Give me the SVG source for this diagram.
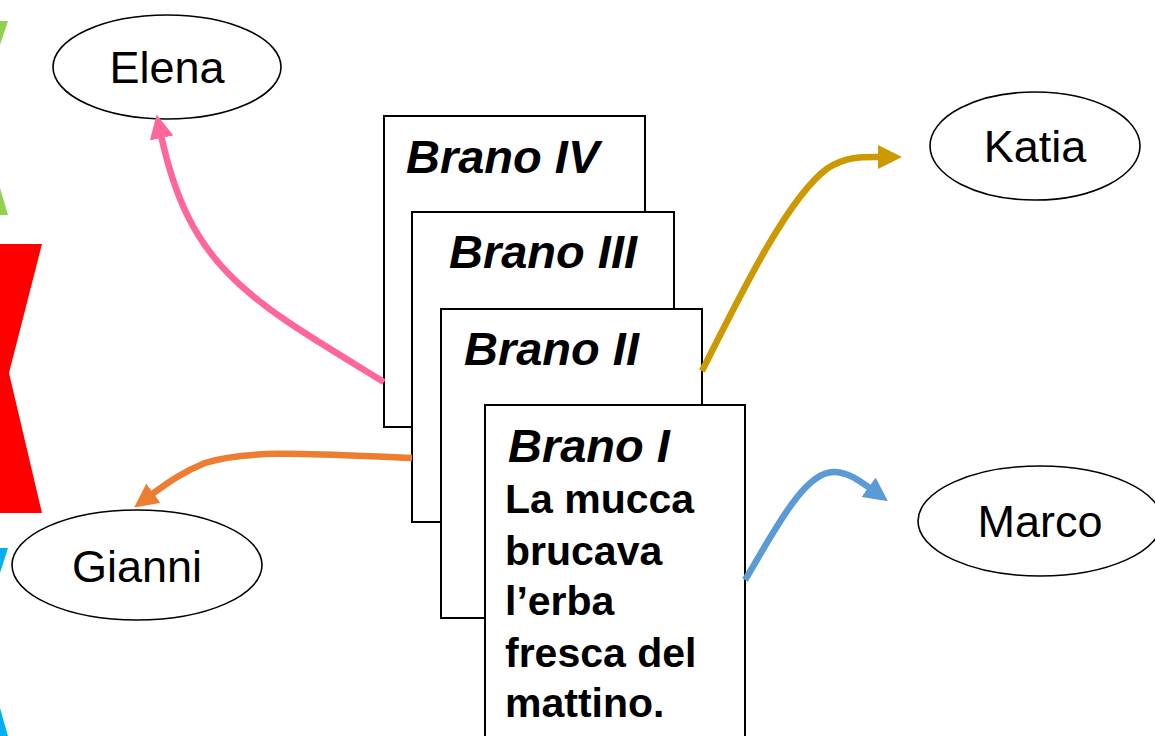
<svg xmlns="http://www.w3.org/2000/svg" width="1155" height="736" viewBox="0 0 1155 736">
<style>
.page{fill:#fff;stroke:#000;stroke-width:2}
.title{font-family:"Liberation Sans",Arial,sans-serif;font-size:47px;font-weight:bold;font-style:italic;fill:#000}
.body{font-family:"Liberation Sans",Arial,sans-serif;font-size:41px;font-weight:bold;fill:#000}
.person ellipse{fill:#fff;stroke:#000;stroke-width:1.6}
.person text{font-family:"Liberation Sans",Arial,sans-serif;font-size:45px;fill:#000;text-anchor:middle}
.conn{fill:none;stroke-width:6.5}
</style>
<defs>
<marker id="aPink" markerUnits="userSpaceOnUse" viewBox="0 0 24 24" markerWidth="24" markerHeight="24" refX="3" refY="12" orient="auto"><path d="M0,0 L24,12 L0,24 z" fill="#FF6699"/></marker>
<marker id="aOrange" markerUnits="userSpaceOnUse" viewBox="0 0 24 24" markerWidth="24" markerHeight="24" refX="3" refY="12" orient="auto"><path d="M0,0 L24,12 L0,24 z" fill="#ED7D31"/></marker>
<marker id="aGold" markerUnits="userSpaceOnUse" viewBox="0 0 24 24" markerWidth="24" markerHeight="24" refX="3" refY="12" orient="auto"><path d="M0,0 L24,12 L0,24 z" fill="#CC9900"/></marker>
<marker id="aBlue" markerUnits="userSpaceOnUse" viewBox="0 0 24 24" markerWidth="24" markerHeight="24" refX="3" refY="12" orient="auto"><path d="M0,0 L24,12 L0,24 z" fill="#5B9BD5"/></marker>
</defs>
<g id="decor">
<polygon points="0,21 8,21 0,45" fill="#92D050"/>
<polygon points="0,188 8,215 0,215" fill="#92D050"/>
<polygon points="0,244 42,244 9,373 42,513 0,513" fill="#FF0000"/>
<polygon points="0,548 8,548 0,573" fill="#00B0F0"/>
<polygon points="0,708 8,736 0,736" fill="#00B0F0"/>
</g>
<g id="brano4"><rect class="page" x="384" y="116" width="261" height="311"/><text class="title" x="406" y="173">Brano IV</text></g>
<g id="brano3"><rect class="page" x="412" y="212" width="262" height="310"/><text class="title" x="449" y="268">Brano III</text></g>
<g id="brano2"><rect class="page" x="441" y="309" width="261" height="309"/><text class="title" x="464" y="365">Brano II</text></g>
<g id="brano1"><rect class="page" x="485" y="405" width="260" height="340"/><text class="title" x="508" y="462">Brano I</text>
<text class="body" x="505"><tspan x="505" y="513">La mucca</tspan><tspan x="505" y="565">brucava</tspan><tspan x="505" y="615">l’erba</tspan><tspan x="505" y="667">fresca del</tspan><tspan x="505" y="717">mattino.</tspan></text></g>
<g id="elena" class="person"><ellipse cx="167" cy="67" rx="114" ry="52"/><text x="167" y="83">Elena</text></g>
<g id="gianni" class="person"><ellipse cx="137" cy="565" rx="125" ry="55"/><text x="137" y="582">Gianni</text></g>
<g id="katia" class="person"><ellipse cx="1035" cy="146" rx="105" ry="54"/><text x="1035" y="162">Katia</text></g>
<g id="marco" class="person"><ellipse cx="1040" cy="521" rx="122" ry="55"/><text x="1040" y="537">Marco</text></g>
<g id="connectors">
<path class="conn" stroke="#FF6699" marker-end="url(#aPink)" d="M384,382 C250,300 190,270 161,135"/>
<path class="conn" stroke="#ED7D31" marker-end="url(#aOrange)" d="M412,458 C330,455 250,448 205,463 C182,472 166,484 151,495"/>
<path class="conn" stroke="#CC9900" marker-end="url(#aGold)" d="M702,371 C745,285 790,195 828,168 C848,156 862,157 881,157"/>
<path class="conn" stroke="#5B9BD5" marker-end="url(#aBlue)" d="M745,580 C775,530 805,470 835,472 C850,473 860,481 871,489"/>
</g>
</svg>
